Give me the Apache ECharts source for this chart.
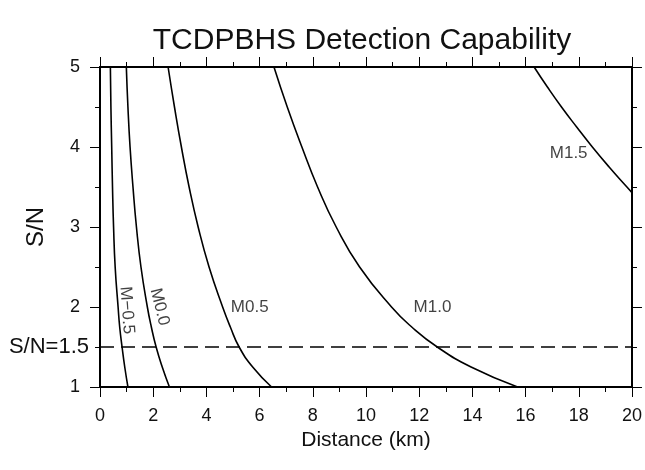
<!DOCTYPE html>
<html>
<head>
<meta charset="utf-8">
<script src="https://cdn.jsdelivr.net/npm/echarts@6/dist/echarts.min.js"></script>
<style>html,body{margin:0;padding:0;background:#fff}#c{width:645px;height:470px}</style>
</head>
<body>
<div id="c"></div>
<script>
// Each curve: [distance (km), S/N]
var curveMm05 = [[0.39,5],[0.41,4.5],[0.44,4],[0.47,3.5],[0.51,3],[0.57,2.5],[0.68,2],[0.74,1.75],[0.83,1.5],[0.93,1.25],[1.05,1]];
var curveM00  = [[0.99,5],[1.05,4.5],[1.13,4],[1.24,3.5],[1.37,3],[1.54,2.5],[1.78,2],[1.93,1.75],[2.11,1.5],[2.34,1.25],[2.61,1]];
var curveM05  = [[2.56,5],[2.80,4.5],[3.06,4],[3.35,3.5],[3.69,3],[4.10,2.5],[4.61,2],[4.90,1.75],[5.23,1.5],[5.74,1.25],[6.45,1]];
var curveM10  = [[6.54,5],[7.04,4.5],[7.59,4],[8.18,3.5],[8.88,3],[9.76,2.5],[10.96,2],[11.72,1.75],[12.68,1.5],[13.95,1.25],[15.7,1]];
var curveM15  = [[16.32,5],[16.82,4.75],[17.35,4.5],[17.92,4.25],[18.51,4.0],[19.14,3.75],[19.81,3.5],[20,3.43]];
var threshold = 1.5;
var curveNames = ['M\u22120.5','M0.0','M0.5','M1.0','M1.5'];
var xTicks = [0,2,4,6,8,10,12,14,16,18,20];
var yTicks = [1,2,3,4,5];

var FONT = 'Liberation Sans, Arial, Helvetica, sans-serif';
var chart = echarts.init(document.getElementById('c'), null, {renderer:'canvas'});

function curve(data){
  return {type:'line', data:data, xAxisIndex:0, yAxisIndex:0, showSymbol:false, smooth:0.5,
    lineStyle:{color:'#000', width:1.6}, silent:true, animation:false, z:3};
}
function lbl(name, x, y, rot){
  return {value:[x,y], label:{show:true, formatter:name, rotate:rot, position:'inside',
    fontFamily:FONT, fontSize:17, color:'#111'}};
}

var axisBase = {
  type:'value', splitLine:{show:false},
  axisLine:{show:true, onZero:false, lineStyle:{color:'#000', width:2}},
  axisTick:{show:true, length:10, lineStyle:{color:'#000', width:1}},
  minorTick:{show:true, splitNumber:2, length:5, lineStyle:{color:'#000', width:1}},
  minorSplitLine:{show:false}
};

var option = {
  animation:false,
  backgroundColor:'#fff',
  title:{text:'TCDPBHS Detection Capability', left:357, top:21, textAlign:'center',
    textStyle:{fontFamily:FONT, fontSize:30, fontWeight:'normal', color:'#111'}},
  grid:{left:100, right:12, top:67, bottom:83, containLabel:false},
  xAxis:[
    Object.assign({}, axisBase, {position:'bottom', min:0, max:20, interval:2,
      name:'Distance (km)', nameLocation:'middle', nameGap:42,
      nameTextStyle:{fontFamily:FONT, fontSize:21, color:'#111'},
      axisLabel:{fontFamily:FONT, fontSize:18, color:'#111', margin:20,
        formatter:function(v){return xTicks.indexOf(v)>=0 ? String(v) : '';}}}),
    Object.assign({}, axisBase, {position:'top', min:0, max:20, interval:2, axisLabel:{show:false}})
  ],
  yAxis:[
    Object.assign({}, axisBase, {position:'left', min:1, max:5, interval:1,
      name:'S/N', nameLocation:'middle', nameGap:52,
      nameTextStyle:{fontFamily:FONT, fontSize:24, color:'#111'},
      axisLabel:{fontFamily:FONT, fontSize:18, color:'#111', margin:20,
        formatter:function(v){return yTicks.indexOf(v)>=0 ? String(v) : '';}}}),
    Object.assign({}, axisBase, {position:'right', min:1, max:5, interval:1, axisLabel:{show:false}}),
    {type:'value', position:'left', min:1, max:5, interval:0.5, splitLine:{show:false},
      axisLine:{show:false}, axisTick:{show:false},
      axisLabel:{fontFamily:FONT, fontSize:22, color:'#111', margin:11,
        formatter:function(v){return v===threshold ? 'S/N=' + threshold : '';}}}
  ],
  series:[
    curve(curveMm05), curve(curveM00), curve(curveM05), curve(curveM10), curve(curveM15),
    {type:'line', data:[[0,threshold],[20,threshold]], showSymbol:false, silent:true,
      lineStyle:{color:'#000', width:1.5, type:[14,7]}, z:2},
    {type:'scatter', symbolSize:0, silent:true, z:5,
      data:[lbl(curveNames[0],1.01,1.96,-86), lbl(curveNames[1],2.24,2.0,-76),
            lbl(curveNames[2],5.63,1.99,0), lbl(curveNames[3],12.5,2.0,0),
            lbl(curveNames[4],17.62,3.92,0)]}
  ]
};
chart.setOption(option);
</script>
</body>
</html>
